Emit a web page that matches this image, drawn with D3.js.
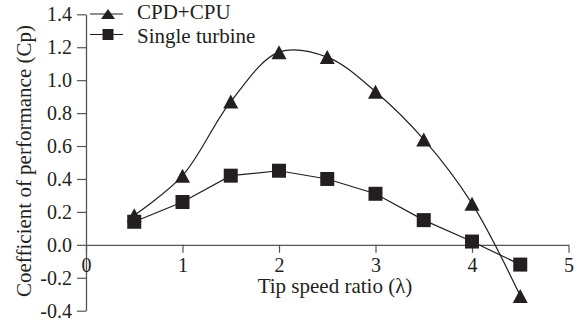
<!DOCTYPE html>
<html>
<head>
<meta charset="utf-8">
<script src="https://cdn.jsdelivr.net/npm/d3@7"></script>
<style>
  body { margin: 0; background: #fff; }
  svg text { font-family: "Liberation Serif", "DejaVu Serif", serif; fill: #231f20; }
</style>
</head>
<body>
<svg id="svg" width="577" height="324"></svg>
<script>
const lambda = [0.5, 1, 1.5, 2, 2.5, 3, 3.5, 4, 4.5];
const cpdCpu = [0.18, 0.42, 0.87, 1.17, 1.14, 0.93, 0.64, 0.25, -0.31];
const single = [0.14, 0.26, 0.42, 0.45, 0.40, 0.31, 0.15, 0.02, -0.12];
const xTicks = [0, 1, 2, 3, 4, 5];
const yTicks = [-0.4, -0.2, 0, 0.2, 0.4, 0.6, 0.8, 1.0, 1.2, 1.4];
const seriesNames = ['CPD+CPU', 'Single turbine'];

const ink = '#231f20';
const axisColor = '#555';
const tickFont = 20;
const titleFont = 21;
const serif = '"Liberation Serif", "DejaVu Serif", serif';

const svg = d3.select('#svg');

const x = d3.scaleLinear().domain([0, 5]).range([86, 568.5]);
const y = d3.scaleLinear().domain([-0.4, 1.4]).range([310.7, 14.3]);

// y axis
const gy = svg.append('g')
  .attr('transform', 'translate(' + x(0) + ',0)')
  .call(d3.axisLeft(y)
    .tickValues(yTicks)
    .tickFormat(d => d.toFixed(1))
    .tickSize(9)
    .tickSizeOuter(0)
    .tickPadding(5));

// x axis sits on Cp = 0
const gx = svg.append('g')
  .attr('transform', 'translate(0,' + y(0) + ')')
  .call(d3.axisBottom(x)
    .tickValues(xTicks)
    .tickFormat(d3.format('d'))
    .tickSize(8)
    .tickSizeOuter(0)
    .tickPadding(5));

[gx, gy].forEach(g => {
  g.attr('font-family', serif).attr('font-size', tickFont);
  g.select('.domain').attr('stroke', axisColor).attr('stroke-width', 1.3);
  g.selectAll('.tick line').attr('stroke', axisColor).attr('stroke-width', 1.2);
  g.selectAll('text').attr('fill', ink);
});

// axis titles
svg.append('text')
  .attr('x', 335)
  .attr('y', 293)
  .attr('text-anchor', 'middle')
  .attr('font-family', serif)
  .attr('font-size', titleFont)
  .text('Tip speed ratio (\u03bb)');

svg.append('text')
  .attr('transform', 'translate(31,161) rotate(-90)')
  .attr('text-anchor', 'middle')
  .attr('font-family', serif)
  .attr('font-size', titleFont)
  .text('Coefficient of performance (Cp)');

function triangle(w, h) {
  return 'M0,' + (-h / 2) + 'L' + (w / 2) + ',' + (h / 2) + 'L' + (-w / 2) + ',' + (h / 2) + 'Z';
}
function square(s) {
  return 'M' + (-s / 2) + ',' + (-s / 2) + 'h' + s + 'v' + s + 'h' + (-s) + 'Z';
}

const cpdData = lambda.map((l, i) => ({ l: l, v: cpdCpu[i] }));
const singleData = lambda.map((l, i) => ({ l: l, v: single[i] }));

svg.append('path')
  .datum(cpdData)
  .attr('fill', 'none')
  .attr('stroke', ink)
  .attr('stroke-width', 1.2)
  .attr('d', d3.line()
    .x(d => x(d.l))
    .y(d => y(d.v))
    .curve(d3.curveCatmullRom.alpha(0.5)));

svg.append('path')
  .datum(singleData)
  .attr('fill', 'none')
  .attr('stroke', ink)
  .attr('stroke-width', 1.2)
  .attr('d', d3.line()
    .x(d => x(d.l))
    .y(d => y(d.v)));

svg.selectAll('path.tri')
  .data(cpdData)
  .enter()
  .append('path')
    .attr('class', 'tri')
    .attr('transform', d => 'translate(' + x(d.l) + ',' + y(d.v) + ')')
    .attr('d', triangle(15, 14))
    .attr('fill', ink);

svg.selectAll('path.sq')
  .data(singleData)
  .enter()
  .append('path')
    .attr('class', 'sq')
    .attr('transform', d => 'translate(' + x(d.l) + ',' + y(d.v) + ')')
    .attr('d', square(14))
    .attr('fill', ink);

// legend
const legend = svg.append('g');
const rows = [
  { name: seriesNames[0], y: 14, ty: 19, mark: triangle(14, 10) },
  { name: seriesNames[1], y: 34.5, ty: 43, mark: square(11) }
];
rows.forEach(r => {
  legend.append('line')
    .attr('x1', 90).attr('x2', 123)
    .attr('y1', r.y).attr('y2', r.y)
    .attr('stroke', ink).attr('stroke-width', 1.2);
  legend.append('path')
    .attr('transform', 'translate(108,' + r.y + ')')
    .attr('d', r.mark)
    .attr('fill', ink);
  legend.append('text')
    .attr('x', 137)
    .attr('y', r.ty)
    .attr('font-family', serif)
    .attr('font-size', titleFont)
    .text(r.name);
});
</script>
</body>
</html>
